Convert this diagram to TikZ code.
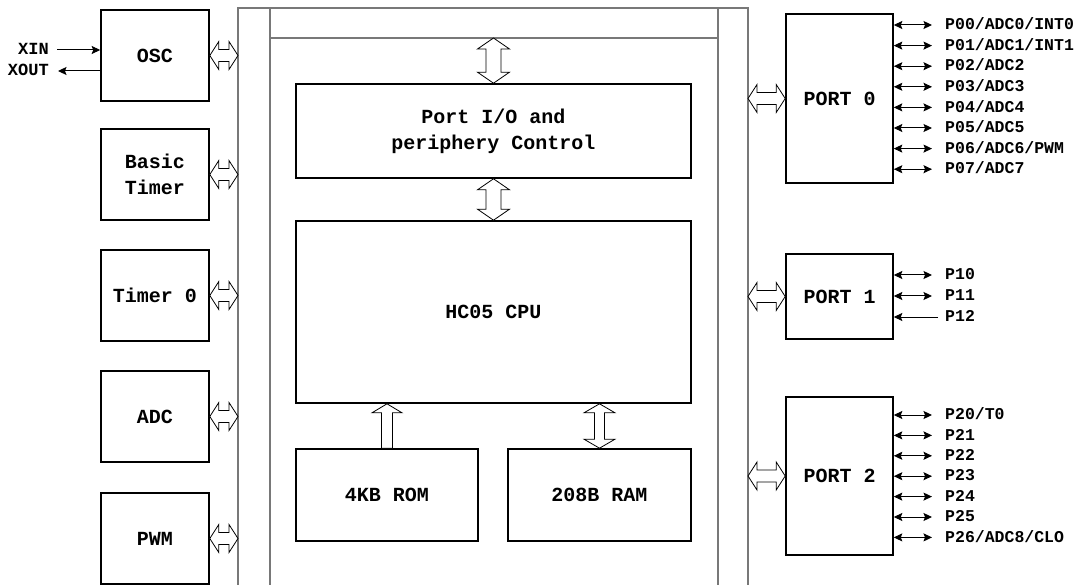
\documentclass[tikz,border=0pt]{standalone}
\usepackage{fontspec}
\setmainfont{Liberation Mono}
\usetikzlibrary{arrows.meta,calc}
\definecolor{busgray}{RGB}{120,120,120}
\newcommand\bigf{\fontsize{20}{26}\selectfont\bfseries}
\newcommand\pinf{\fontsize{16.5}{18}\selectfont\bfseries}
% horizontal double hollow arrow between two points at same height
\newcommand\hhollow[2]{\coordinate (ha) at #1; \coordinate (hb) at #2;
  \draw[hollow] let \p1=(ha), \p2=(hb) in
  (\x1,\y1) -- (\x1+9pt,\y1+14pt) -- (\x1+9pt,\y1+6pt) -- (\x2-9pt,\y1+6pt) -- (\x2-9pt,\y1+14pt) --
  (\x2,\y1) -- (\x2-9pt,\y1-14pt) -- (\x2-9pt,\y1-6pt) -- (\x1+9pt,\y1-6pt) -- (\x1+9pt,\y1-14pt) -- cycle;}
% vertical double hollow arrow: #1 top point, #2 bottom point, #3 head length, #4 head half width, #5 shaft half width
\newcommand\vhollow[5]{\coordinate (va) at #1; \coordinate (vb) at #2;
  \draw[hollow] let \p1=(va), \p2=(vb) in
  (\x1,\y1) -- (\x1+#4,\y1-#3) -- (\x1+#5,\y1-#3) -- (\x1+#5,\y2+#3) -- (\x1+#4,\y2+#3) --
  (\x1,\y2) -- (\x1-#4,\y2+#3) -- (\x1-#5,\y2+#3) -- (\x1-#5,\y1-#3) -- (\x1-#4,\y1-#3) -- cycle;}
% vertical single hollow arrow pointing up: #1 tip, #2 tail
\newcommand\vhollowup[5]{\coordinate (va) at #1; \coordinate (vb) at #2;
  \draw[hollow] let \p1=(va), \p2=(vb) in
  (\x1,\y1) -- (\x1+#4,\y1-#3) -- (\x1+#5,\y1-#3) -- (\x1+#5,\y2) --
  (\x1-#5,\y2) -- (\x1-#5,\y1-#3) -- (\x1-#4,\y1-#3) -- cycle;}
\begin{document}
\begin{tikzpicture}[x=1pt,y=-1pt,
  blk/.style={draw, line width=1.6pt, inner sep=0pt, align=center, font=\bigf},
  leftblk/.style={blk, minimum width=108pt, minimum height=91pt},
  portblk/.style={blk, minimum width=107pt},
  bus/.style={draw=busgray, line width=1.3pt},
  hollow/.style={draw=black, line width=0.8pt, fill=white},
  pinlbl/.style={font=\pinf, inner sep=0pt, text height=9.5pt, text depth=0pt},
  bi/.style={line width=1pt, {Stealth[length=8.5pt,width=8pt,inset=1.5pt]}-{Stealth[length=8.5pt,width=8pt,inset=1.5pt]}},
  uni/.style={line width=1pt, -{Stealth[length=8.5pt,width=8pt,inset=1.5pt]}}]
\useasboundingbox (0,0) rectangle (1084,585);

% bus frame
\coordinate (busL) at (238,0);
\coordinate (busIL) at (270,0);
\coordinate (busIR) at (718,0);
\coordinate (busR) at (748,0);
\coordinate (bar) at (0,38);
\draw[bus] (238,585) -- (238,8) -- (748,8) -- (748,585);
\draw[bus] (270,585) -- (270,8);
\draw[bus] (718,585) -- (718,8);
\draw[bus] (270,38) -- (718,38);

% left blocks
\node[leftblk] (osc) at (155,55.5) {OSC};
\node[leftblk] (bt)  at (155,174.5) {Basic\\Timer};
\node[leftblk] (t0)  at (155,295.5) {Timer 0};
\node[leftblk] (adc) at (155,416.5) {ADC};
\node[leftblk] (pwm) at (155,538.5) {PWM};

\hhollow{(osc.east)}{(osc.east -| busL)}
\hhollow{(bt.east)}{(bt.east -| busL)}
\hhollow{(t0.east)}{(t0.east -| busL)}
\hhollow{(adc.east)}{(adc.east -| busL)}
\hhollow{(pwm.east)}{(pwm.east -| busL)}

% XIN / XOUT
\node[pinlbl, anchor=east, font=\fontsize{17}{18}\selectfont\bfseries] (xin) at (49,50) {XIN};
\node[pinlbl, anchor=east, font=\fontsize{17}{18}\selectfont\bfseries] (xout) at (49,71) {XOUT};
\draw[uni] ($(xin.east)+(8,0)$) -- (osc.west |- xin.east);
\draw[uni] (osc.west |- xout.east) -- ($(xout.east)+(9,0)$);

% center blocks
\node[blk, minimum width=395pt, minimum height=94pt] (pio) at (493.5,131) {Port I/O and\\periphery Control};
\node[blk, minimum width=395pt, minimum height=182pt] (cpu) at (493.5,312) {HC05 CPU};
\node[blk, minimum width=182pt, minimum height=92pt] (rom) at (387,495) {4KB ROM};
\node[blk, minimum width=183pt, minimum height=92pt] (ram) at (599.5,495) {208B RAM};

\vhollow{(pio.north |- bar)}{(pio.north)}{11pt}{16pt}{7.5pt}
\vhollow{(pio.south)}{(cpu.north)}{11pt}{16pt}{7.5pt}
\vhollowup{(rom.north |- cpu.south)}{(rom.north)}{9pt}{15pt}{5.5pt}
\vhollow{(ram.north |- cpu.south)}{(ram.north)}{9pt}{15.5pt}{5pt}

% ports
\node[portblk, minimum height=169pt] (p0) at (839.5,98.5) {PORT 0};
\node[portblk, minimum height=85pt]  (p1) at (839.5,296.5) {PORT 1};
\node[portblk, minimum height=158pt] (p2) at (839.5,476) {PORT 2};

\hhollow{(p0.west -| busR)}{(p0.west)}
\hhollow{(p1.west -| busR)}{(p1.west)}
\hhollow{(p2.west -| busR)}{(p2.west)}

% port 0 pins
\foreach \i/\t in {0/P00\slash ADC0\slash INT0,1/P01\slash ADC1\slash INT1,2/P02\slash ADC2,3/P03\slash ADC3,
                   4/P04\slash ADC4,5/P05\slash ADC5,6/P06\slash ADC6\slash PWM,7/P07\slash ADC7}{
  \node[pinlbl, anchor=west] (l0\i) at (945,25+20.6*\i) {\t};
  \draw[bi] (p0.east |- l0\i.west) -- ($(l0\i.west)+(-13,0)$);
}

% port 1 pins
\node[pinlbl, anchor=west] (l10) at (945,275) {P10};
\node[pinlbl, anchor=west] (l11) at (945,296) {P11};
\node[pinlbl, anchor=west] (l12) at (945,317) {P12};
\draw[bi] (p1.east |- l10.west) -- ($(l10.west)+(-13,0)$);
\draw[bi] (p1.east |- l11.west) -- ($(l11.west)+(-13,0)$);
\draw[uni] ($(l12.west)+(-7,0)$) -- (p1.east |- l12.west);

% port 2 pins
\foreach \i/\t in {0/P20\slash T0,1/P21,2/P22,3/P23,4/P24,5/P25,6/P26\slash ADC8\slash CLO}{
  \node[pinlbl, anchor=west] (l2\i) at (945,415+20.4*\i) {\t};
  \draw[bi] (p2.east |- l2\i.west) -- ($(l2\i.west)+(-13,0)$);
}
\end{tikzpicture}
\end{document}
